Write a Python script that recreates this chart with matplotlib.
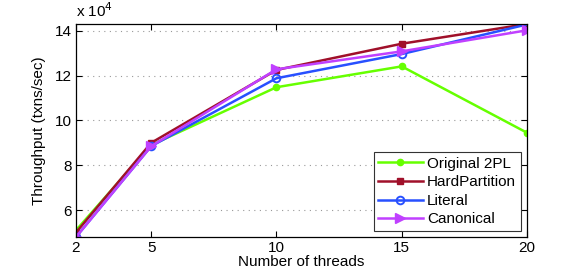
import matplotlib
matplotlib.use("Agg")
import matplotlib.pyplot as plt

threads = [2, 5, 10, 15, 20]
original_2pl = [5.1, 8.9, 11.48, 12.41, 9.45]
hard_partition = [5.0, 9.0, 12.25, 13.42, 14.3]
literal = [4.8, 8.85, 11.88, 12.96, 14.28]
canonical = [4.8, 8.85, 12.28, 13.08, 14.02]
labels = ["Original 2PL", "HardPartition", "Literal", "Canonical"]
yticks = [6, 8, 10, 12, 14]
xticks = [2, 5, 10, 15, 20]

FS = 11
plt.rcParams['font.family'] = ['Liberation Sans', 'DejaVu Sans']
fig = plt.figure(figsize=(5.81, 2.76), dpi=100)
ax = fig.add_axes([76/581, 1-237/276, 451/581, 213/276])

ax.plot(threads, original_2pl, color='#66ff00', lw=1.8, marker='o', ms=4.5,
        mfc='#66ff00', mec='#66ff00', label=labels[0])
ax.plot(threads, hard_partition, color='#a0102a', lw=1.8, marker='s', ms=5,
        mfc='#a0102a', mec='#a0102a', label=labels[1])
ax.plot(threads, literal, color='#2850ff', lw=1.8, marker='o', ms=5.5,
        mfc='none', mec='#2850ff', mew=1.4, label=labels[2])
ax.plot(threads, canonical, color='#c040ff', lw=1.8, marker='>', ms=6.5,
        mfc='#c040ff', mec='#c040ff', label=labels[3])

ax.set_xlim(2, 20)
ax.set_ylim(4.8, 14.3)
ax.set_xticks(xticks)
ax.set_yticks(yticks)
ax.tick_params(direction='in', top=True, right=True, labelsize=FS, length=4, width=0.8, pad=3)
ax.yaxis.grid(True, linestyle=(0, (1, 4)), color='#999999', lw=0.8)
ax.set_axisbelow(True)
for s in ax.spines.values():
    s.set_linewidth(0.9)
ax.set_xlabel("Number of threads", fontsize=FS, labelpad=0)
ax.set_ylabel("Throughput (txns/sec)", fontsize=FS, labelpad=6)
ax.text(0.0, 1.02, r"x 10$^4$", transform=ax.transAxes, fontsize=FS,
        ha='left', va='bottom')

leg = ax.legend(loc='lower right', bbox_to_anchor=(0.986, 0.028), fontsize=FS,
                fancybox=False, framealpha=1, edgecolor='#333333',
                borderpad=0.3, labelspacing=0.3, handlelength=2.9,
                handletextpad=0.3, borderaxespad=0)
leg.get_frame().set_linewidth(0.8)

fig.savefig("out.png", dpi=100)
